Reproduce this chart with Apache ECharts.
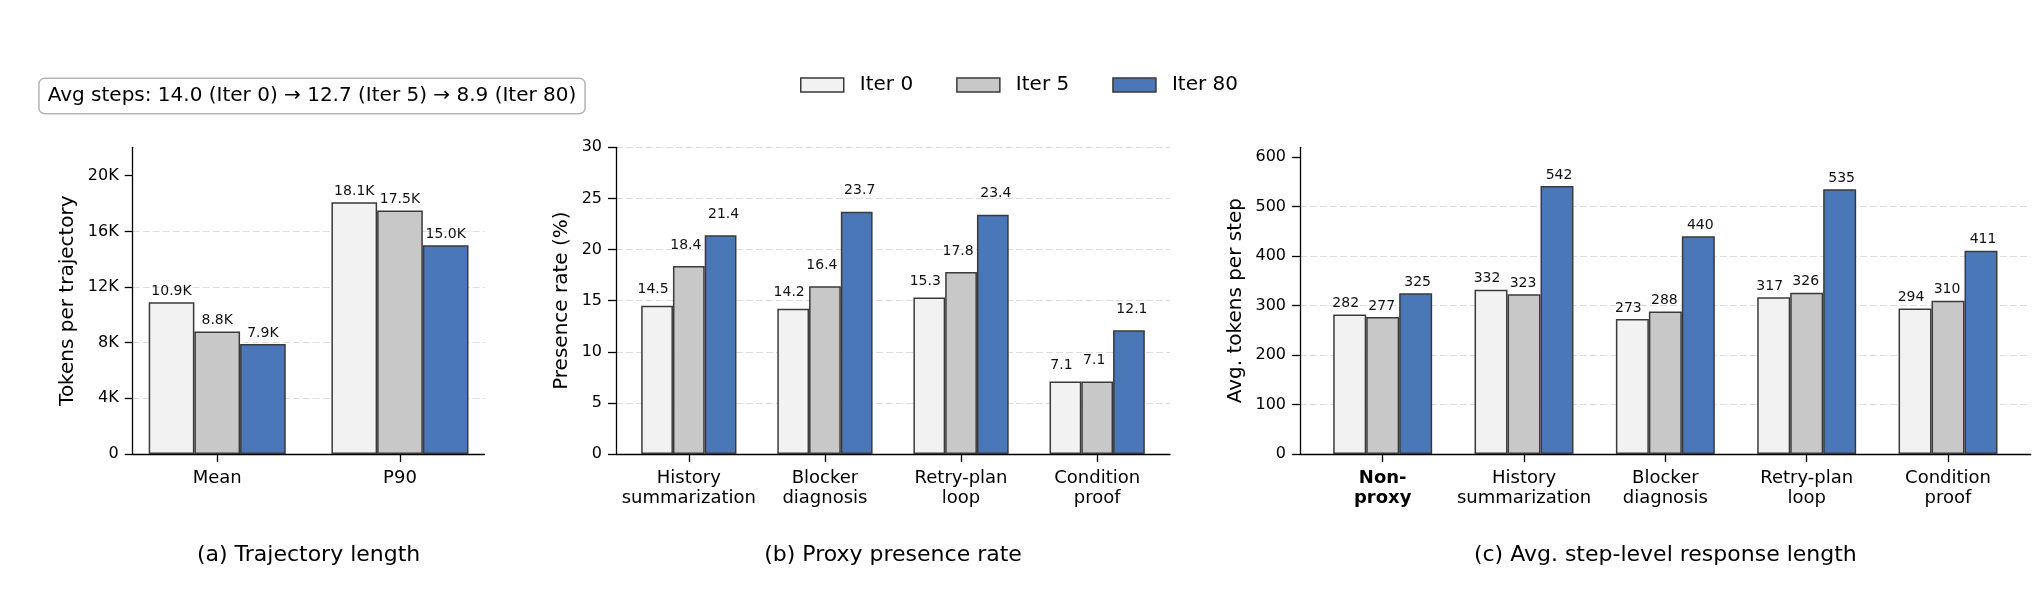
<!DOCTYPE html>
<html>
<head>
<meta charset="utf-8">
<script src="https://cdn.jsdelivr.net/npm/echarts@6/dist/echarts.min.js"></script>
<style>
html, body { margin: 0; padding: 0; background: #fff; }
#chart { width: 2040px; height: 615px; }
</style>
</head>
<body>
<div id="chart"></div>
<script>
// (a) trajectory length
var catsA = ['Mean', 'P90'];
var lenIter0 = [10900, 18100];
var lenIter5 = [8800, 17500];
var lenIter80 = [7900, 15000];
var ticksA = [0, 4000, 8000, 12000, 16000, 20000];

// (b) proxy presence rate (%)
var catsB = ['History\nsummarization', 'Blocker\ndiagnosis', 'Retry-plan\nloop', 'Condition\nproof'];
var presIter0 = [14.5, 14.2, 15.3, 7.1];
var presIter5 = [18.4, 16.4, 17.8, 7.1];
var presIter80 = [21.4, 23.7, 23.4, 12.1];
var ticksB = [0, 5, 10, 15, 20, 25, 30];

// (c) avg tokens per step
var catsC = ['Non-\nproxy', 'History\nsummarization', 'Blocker\ndiagnosis', 'Retry-plan\nloop', 'Condition\nproof'];
var stepIter0 = [282, 332, 273, 317, 294];
var stepIter5 = [277, 323, 288, 326, 310];
var stepIter80 = [325, 542, 440, 535, 411];
var ticksC = [0, 100, 200, 300, 400, 500, 600];

var seriesNames = ['Iter 0', 'Iter 5', 'Iter 80'];
var avgSteps = [14.0, 12.7, 8.9];

var FONT = 'DejaVu Sans';
var colors = ['#f2f2f2', '#c8c8c8', '#4a77b8'];
var EDGE = '#3a3a3a';
var TOP = 147.3, HEIGHT = 306.7;

var panels = [
  {
    cats: catsA, data: [lenIter0, lenIter5, lenIter80], ticks: ticksA, yMax: 22040,
    left: 132.7, width: 351.8, barW: 0.25, yName: 'Tokens per trajectory', nameGap: 55,
    fmt: function (v) { return (v / 1000).toFixed(1) + 'K'; },
    tickFmt: function (v) { return v === 0 ? '0' : (v / 1000) + 'K'; },
    dist: [4, 4, 4], offs: [[0, 0], [0, 0], [0, 0]],
    title: '(a) Trajectory length'
  },
  {
    cats: catsB, data: [presIter0, presIter5, presIter80], ticks: ticksB, yMax: 30,
    left: 616, width: 554, barW: 0.7 / 3, yName: 'Presence rate (%)', nameGap: 44,
    fmt: function (v) { return v.toFixed(1); },
    tickFmt: function (v) { return String(v); },
    dist: [9, 14, 14], offs: [[-4, 0], [-3, 0], [3, 0]],
    title: '(b) Proxy presence rate'
  },
  {
    cats: catsC, data: [stepIter0, stepIter5, stepIter80], ticks: ticksC, yMax: 620,
    left: 1300, width: 730.7, barW: 0.7 / 3, yName: 'Avg. tokens per step', nameGap: 54,
    fmt: function (v) { return String(v); },
    tickFmt: function (v) { return String(v); },
    dist: [4, 4, 4], offs: [[-4, 0], [-1, 0], [2, 0]],
    title: '(c) Avg. step-level response length',
    bold: 0
  }
];

var grids = [], xAxes = [], yAxes = [], series = [], graphics = [];

panels.forEach(function (p, gi) {
  var n = p.cats.length;
  var half = 1.5 * p.barW;
  var margin = 0.05 * ((n - 1) + 2 * half);
  var xMin = -half - margin, xMax = (n - 1) + half + margin;
  var pxPerUnit = p.width / (xMax - xMin);
  var idx = p.cats.map(function (c, i) { return i; });

  grids.push({ left: p.left, top: TOP, width: p.width, height: HEIGHT, containLabel: false });

  xAxes.push({
    type: 'value', gridIndex: gi, min: xMin, max: xMax,
    axisLine: { show: true, onZero: false, lineStyle: { color: '#000', width: 1.3 } },
    axisTick: { show: true, length: 8, customValues: idx, lineStyle: { color: '#000', width: 1.3 } },
    splitLine: { show: false },
    axisLabel: {
      customValues: idx, margin: 14, fontSize: 18, lineHeight: 20, color: '#000', fontFamily: FONT,
      formatter: function (v) {
        var s = p.cats[Math.round(v)];
        if (p.bold === Math.round(v)) {
          return s.split('\n').map(function (l) { return '{b|' + l + '}'; }).join('\n');
        }
        return s;
      },
      rich: { b: { fontWeight: 'bold', fontSize: 18, lineHeight: 20, fontFamily: FONT, color: '#000' } }
    }
  });

  yAxes.push({
    type: 'value', gridIndex: gi, min: 0, max: p.yMax, interval: p.ticks[1] - p.ticks[0],
    name: p.yName, nameLocation: 'middle', nameGap: p.nameGap,
    nameTextStyle: { fontSize: 20, color: '#000', fontFamily: FONT },
    axisLine: { show: true, onZero: false, lineStyle: { color: '#000', width: 1.3 } },
    axisTick: { show: true, length: 8, customValues: p.ticks, lineStyle: { color: '#000', width: 1.3 } },
    axisLabel: {
      customValues: p.ticks, margin: 14, fontSize: 16, color: '#000', fontFamily: FONT,
      formatter: p.tickFmt
    },
    splitLine: {
      show: true, showMinLine: false, showMaxLine: p.yMax === p.ticks[p.ticks.length - 1],
      lineStyle: { color: '#dedede', width: 1.2, type: [7, 3] }
    }
  });

  p.data.forEach(function (vals, si) {
    series.push({
      type: 'bar', name: seriesNames[si], xAxisIndex: gi, yAxisIndex: gi,
      data: vals.map(function (v, i) { return [i, v]; }),
      barWidth: p.barW * pxPerUnit, barGap: '0%',
      itemStyle: { color: colors[si], borderColor: EDGE, borderWidth: 1.5 },
      label: {
        show: true, position: 'top', distance: p.dist[si], offset: p.offs[si],
        fontSize: 14, color: '#111', fontFamily: FONT,
        formatter: function (params) { return p.fmt(params.value[1]); }
      }
    });
  });

  graphics.push({
    type: 'text', x: p.left + p.width / 2, y: 555,
    style: {
      text: p.title, fontSize: 22, fontFamily: FONT, fill: '#000',
      align: 'center', verticalAlign: 'middle', textAlign: 'center', textVerticalAlign: 'middle'
    }
  });
});

var note = 'Avg steps: ' + avgSteps[0].toFixed(1) + ' (Iter 0) \u2192 ' +
  avgSteps[1].toFixed(1) + ' (Iter 5) \u2192 ' + avgSteps[2].toFixed(1) + ' (Iter 80)';
graphics.push({
  type: 'text', x: 312, y: 96,
  style: {
    text: note, fontSize: 20, fontFamily: FONT, fill: '#000',
    align: 'center', verticalAlign: 'middle', textAlign: 'center', textVerticalAlign: 'middle',
    backgroundColor: '#fff', borderColor: '#b4b4b4', borderWidth: 1.5, borderRadius: 5,
    padding: [6, 8], lineHeight: 22
  }
});

var chart = echarts.init(document.getElementById('chart'));
chart.setOption({
  animation: false,
  backgroundColor: '#fff',
  textStyle: { fontFamily: FONT },
  legend: {
    data: seriesNames, left: 800, top: 75, padding: 0,
    icon: 'rect', itemWidth: 43, itemHeight: 14, itemGap: 43,
    itemStyle: { borderColor: EDGE, borderWidth: 1.5 },
    textStyle: { fontSize: 20, color: '#000', fontFamily: FONT, padding: [0, 0, 0, 11] }
  },
  grid: grids,
  xAxis: xAxes,
  yAxis: yAxes,
  series: series,
  graphic: graphics
});
</script>
</body>
</html>
